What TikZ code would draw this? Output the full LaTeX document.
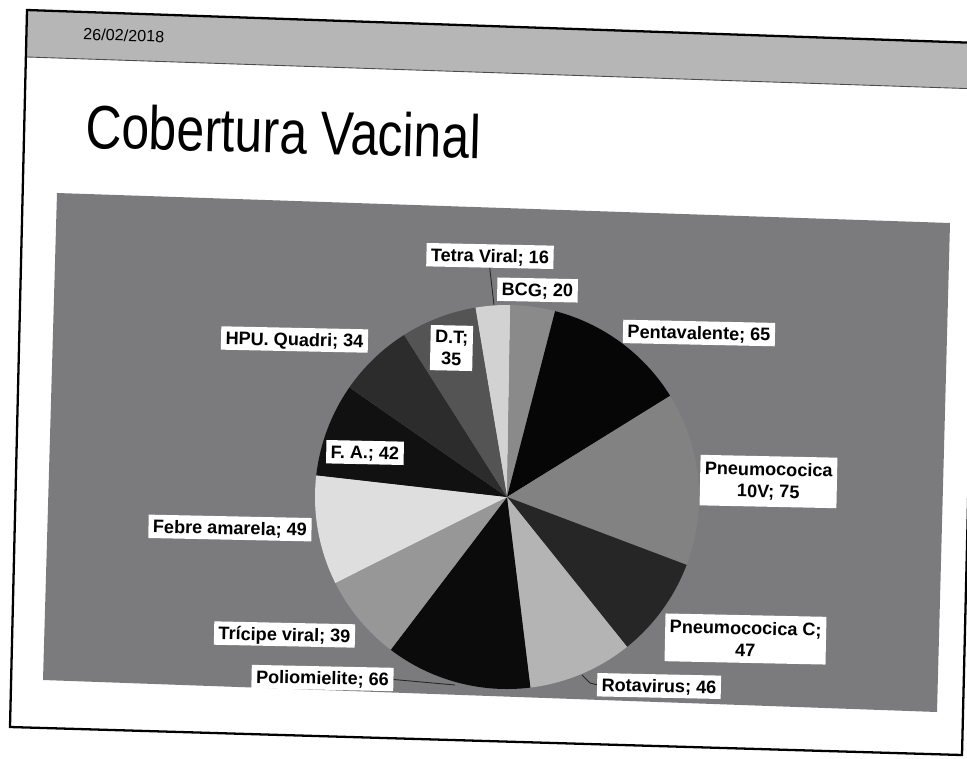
\documentclass[tikz,border=0pt]{standalone}
\usepackage{fontspec}
\setmainfont{Liberation Sans}
\definecolor{cTetra}{HTML}{D2D2D2}
\definecolor{cBCG}{HTML}{8A8A8A}
\definecolor{cPenta}{HTML}{060606}
\definecolor{cPten}{HTML}{828282}
\definecolor{cPC}{HTML}{262626}
\definecolor{cRota}{HTML}{B4B4B4}
\definecolor{cPolio}{HTML}{0B0B0B}
\definecolor{cTri}{HTML}{979797}
\definecolor{cFebre}{HTML}{DEDEDE}
\definecolor{cFA}{HTML}{111111}
\definecolor{cHPU}{HTML}{2C2C2C}
\definecolor{cDT}{HTML}{545454}
\definecolor{cChart}{HTML}{7B7B7E}
\definecolor{cBand}{HTML}{B6B6B6}
\begin{document}
\begin{tikzpicture}[x=0.02cm,y=-0.02cm,
  lbl/.style={fill=white, font=\bfseries\fontsize{10.3}{12.5}\selectfont,
    inner xsep=2.6pt, inner ysep=3pt, align=center, rotate=-1.2},
  one/.style={text height=7.3pt, text depth=0pt},
  two/.style={inner ysep=3.6pt},
  leader/.style={draw=black!85, line width=0.5pt},
  frame/.style={draw=black, line width=1.3pt}]
\useasboundingbox (0,0) rectangle (967,758);
\clip (0,0) rectangle (967,758);
\fill[white] (0,0) rectangle (967,758);
% header band
\fill[cBand] (27,10) -- (980,43) -- (980,89) -- (27,57) -- cycle;
\draw[black!70, line width=0.5pt] (27,57) -- (980,89);
% slide frame
\draw[frame] (27,10) -- (979,43) -- (962,755) -- (10,727) -- cycle;
% date and title
\node[anchor=west, rotate=-2, font=\fontsize{9.2}{11}\selectfont, inner sep=0pt] (date) at (83,34) {26/02/2018};
\node[anchor=base west, rotate=-1.5, font=\fontsize{35}{40}\selectfont, inner sep=0pt] (title) at (85,148) {\scalebox{0.81}[1]{Cobertura Vacinal}};
% chart area
\fill[cChart] (57,193) -- (950,223) -- (937,712) -- (43,680) -- cycle;
% pie
\coordinate (pc) at (507,497);
\foreach \a/\b/\col in {-99.5/-89/cTetra, -89/-75.5/cBCG, -75.5/-31.8/cPenta,
  -31.8/20.7/cPten, 20.7/51.3/cPC, 51.3/83/cRota, 83/127.3/cPolio,
  127.3/153.4/cTri, 153.4/186.5/cFebre, 186.5/214.8/cFA, 214.8/237.6/cHPU,
  237.6/260.5/cDT}
  \fill[\col] (pc) -- ++(\a:192) arc[start angle=\a, end angle=\b, radius=192] -- cycle;
% leader end points
\coordinate (pTetra) at (494,305);
\coordinate (kRota) at (590,683);
\coordinate (pRota) at (582,675);
\coordinate (pPolio) at (455,685);
% labels
\node[lbl, one] (tetra) at (490,256) {Tetra Viral; 16};
\node[lbl, one] (bcg) at (537.5,290) {BCG; 20};
\node[lbl] (dt) at (451.5,348) {D.T;\\35};
\node[lbl, one] (hpu) at (294.5,339.5) {HPU. Quadri; 34};
\node[lbl, one] (fa) at (365,452.5) {F. A.; 42};
\node[lbl, one] (febre) at (230,528) {Febre amarela; 49};
\node[lbl, one] (penta) at (699,333) {Pentavalente; 65};
\node[lbl, two] (pten) at (768.5,481.5) {Pneumococica\\10V; 75};
\node[lbl, two] (pneuc) at (745.5,639) {Pneumococica C;\\47};
\node[lbl, one] (rota) at (659,686) {Rotavirus; 46};
\node[lbl, one] (polio) at (322.5,678) {Poliomielite; 66};
\node[lbl, one] (tri) at (284.5,634.5) {Trícipe viral; 39};
% leaders
\draw[leader] (tetra.south) -- (pTetra);
\draw[leader] (rota.west) -- (kRota) -- (pRota);
\draw[leader] (polio.east) -- (pPolio);
\end{tikzpicture}
\end{document}
